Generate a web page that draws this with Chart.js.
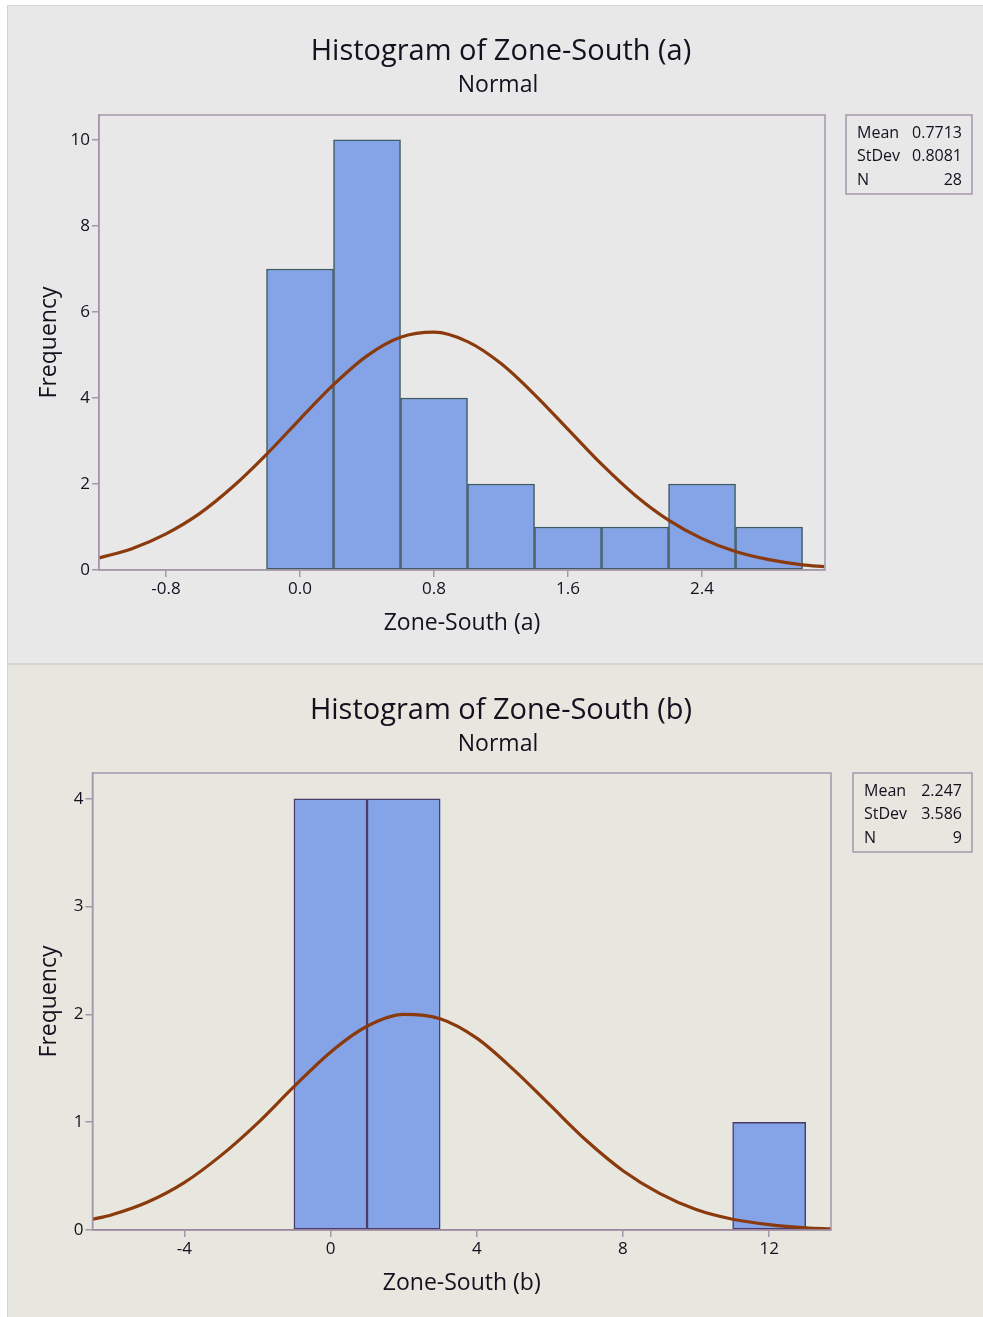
<!DOCTYPE html>
<html lang="en">
<head>
  <meta charset="UTF-8">
  <title>Histogram of Zone-South</title>
  <script src="https://cdn.jsdelivr.net/npm/chart.js"></script>
  <style>
    body {
      margin: 0;
      background: #ffffff;
      font-family: 'Open Sans', sans-serif;
    }
    .panel {
      position: absolute;
      left: 7px;
      width: 976px;
    }
    #panelA {
      top: 5px;
      height: 658px;
      background: #e8e8e8;
      box-shadow: inset 1px 1px 0 #d2d2d2;
    }
    #panelB {
      top: 663px;
      height: 654px;
      background: #e7e6df;
      box-shadow: inset 1px 2px 0 #d4d4d0;
    }
    .panel canvas {
      position: absolute;
      left: 0;
    }
  </style>
</head>
<body>

  <div class="panel" id="panelA"><canvas id="histA" width="976" height="657" style="top:0"></canvas></div>
  <div class="panel" id="panelB"><canvas id="histB" width="976" height="653" style="top:1px"></canvas></div>

  <script>
// Zone-South (a): bin midpoints (width 0.4) and frequencies
const binsA = [0.0, 0.4, 0.8, 1.2, 1.6, 2.0, 2.4, 2.8];
const countsA = [7, 10, 4, 2, 1, 1, 2, 1];
// fitted normal curve, sampled along the x axis
const curveXA = [-1.2, -1.0, -0.8, -0.6, -0.4, -0.2, 0.0, 0.2, 0.4, 0.6, 0.8, 1.0, 1.2, 1.4, 1.6, 1.8, 2.0, 2.2, 2.4, 2.6, 2.8, 3.0, 3.13];
const curveYA = [0.28, 0.50, 0.84, 1.31, 1.94, 2.69, 3.51, 4.31, 4.98, 5.41, 5.53, 5.31, 4.80, 4.08, 3.27, 2.46, 1.74, 1.16, 0.73, 0.43, 0.24, 0.12, 0.08];
const xTicksA = [-0.8, 0.0, 0.8, 1.6, 2.4];
const yTicksA = [0, 2, 4, 6, 8, 10];
const statLabelsA = ['Mean', 'StDev', 'N'];
const statValuesA = ['0.7713', '0.8081', '28'];

// Zone-South (b): bin midpoints (width 2) and frequencies
const binsB = [0, 2, 4, 6, 8, 10, 12];
const countsB = [4, 4, 0, 0, 0, 0, 1];
const curveXB = [-6.5, -6, -5, -4, -3, -2, -1, 0, 1, 2, 3, 4, 5, 6, 7, 8, 9, 10, 11, 12, 13, 13.7];
const curveYB = [0.10, 0.14, 0.26, 0.44, 0.69, 0.99, 1.33, 1.65, 1.89, 2.00, 1.96, 1.78, 1.49, 1.16, 0.83, 0.55, 0.34, 0.19, 0.10, 0.05, 0.02, 0.01];
const xTicksB = [-4, 0, 4, 8, 12];
const yTicksB = [0, 1, 2, 3, 4];
const statLabelsB = ['Mean', 'StDev', 'N'];
const statValuesB = ['2.247', '3.586', '9'];

const FONT = "'Open Sans', sans-serif";
const INK = '#14101e';
const FRAME = '#a597ab';

// headings, plot frame and the summary box
const decorPlugin = {
  id: 'decor',
  afterDraw(chart, args, opts) {
    const ctx = chart.ctx;
    const a = chart.chartArea;
    ctx.save();
    ctx.strokeStyle = FRAME;
    ctx.lineWidth = 1.5;
    ctx.strokeRect(a.left, a.top, a.right - a.left, a.bottom - a.top);

    ctx.fillStyle = INK;
    ctx.textAlign = 'center';
    ctx.textBaseline = 'middle';
    ctx.font = '29px ' + FONT;
    ctx.fillText(opts.title, opts.titleX, 47);
    ctx.font = '23px ' + FONT;
    ctx.fillText('Normal', opts.titleX - 3, 80);

    const b = opts.box;
    ctx.strokeStyle = FRAME;
    ctx.lineWidth = 1.5;
    ctx.strokeRect(b.x, b.y, b.w, b.h);
    ctx.font = '16px ' + FONT;
    opts.labels.forEach((lab, i) => {
      const y = b.y + 18 + i * 23.5;
      ctx.textAlign = 'left';
      ctx.fillText(lab, b.x + 11, y);
      ctx.textAlign = 'right';
      ctx.fillText(opts.values[i], b.x + b.w - 10, y);
    });
    ctx.restore();
  }
};

function makeHistogram(id, cfg) {
  return new Chart(document.getElementById(id), {
    type: 'bar',
    data: {
      datasets: [
        {
          type: 'line',
          data: cfg.curveX.map((x, i) => ({ x: x, y: cfg.curveY[i] })),
          borderColor: '#8b3a0e',
          borderWidth: 3.2,
          pointRadius: 0,
          cubicInterpolationMode: 'monotone',
          order: 0
        },
        {
          type: 'bar',
          data: cfg.bins.map((x, i) => ({ x: x, y: cfg.counts[i] })),
          backgroundColor: '#84a4e7',
          borderColor: cfg.edge,
          borderWidth: 1.5,
          borderSkipped: false,
          barPercentage: 1,
          categoryPercentage: 1,
          order: 1
        }
      ]
    },
    options: {
      responsive: false,
      animation: false,
      layout: { padding: { left: 20, right: cfg.padRight, top: cfg.padTop, bottom: cfg.padBottom } },
      scales: {
        x: {
          type: 'linear',
          min: cfg.xMin,
          max: cfg.xMax,
          offset: false,
          afterBuildTicks: s => { s.ticks = cfg.xTicks.map(v => ({ value: v })); },
          afterFit: s => { s.height = 70; },
          grid: { offset: false, drawOnChartArea: false, drawTicks: true, tickLength: 7, color: FRAME, lineWidth: 1.5 },
          border: { display: true, color: cfg.baseline, width: 1.5 },
          ticks: {
            color: INK,
            padding: 2,
            maxRotation: 0,
            font: { family: FONT, size: 17 },
            callback: v => cfg.xDigits ? v.toFixed(cfg.xDigits) : String(v)
          },
          title: { display: true, text: cfg.xTitle, color: INK, font: { family: FONT, size: 23 }, padding: { top: 0, bottom: 3 } }
        },
        y: {
          min: 0,
          max: cfg.yMax,
          afterBuildTicks: s => { s.ticks = cfg.yTicks.map(v => ({ value: v })); },
          afterFit: s => { s.width = cfg.yWidth; },
          grid: { drawOnChartArea: false, drawTicks: true, tickLength: 7, color: FRAME, lineWidth: 1.5 },
          border: { display: true, color: FRAME, width: 1.5 },
          ticks: { color: INK, padding: 2, font: { family: FONT, size: 17 } },
          title: { display: true, text: 'Frequency', color: INK, font: { family: FONT, size: 23 }, padding: { top: 9, bottom: 0 } }
        }
      },
      plugins: {
        legend: { display: false },
        tooltip: { enabled: false },
        decor: {
          title: cfg.title,
          titleX: 494,
          box: cfg.box,
          labels: cfg.statLabels,
          values: cfg.statValues
        }
      }
    },
    plugins: [decorPlugin]
  });
}

makeHistogram('histA', {
  bins: binsA, counts: countsA, curveX: curveXA, curveY: curveYA,
  xTicks: xTicksA, yTicks: yTicksA, xDigits: 1,
  xMin: -1.2, xMax: 3.134, yMax: 10.58,
  edge: '#3f5a60', baseline: FRAME,
  title: 'Histogram of Zone-South (a)', xTitle: 'Zone-South (a)',
  padTop: 110, padRight: 158, padBottom: 22, yWidth: 72,
  box: { x: 839, y: 110, w: 126, h: 79 },
  statLabels: statLabelsA, statValues: statValuesA
});

makeHistogram('histB', {
  bins: binsB, counts: countsB, curveX: curveXB, curveY: curveYB,
  xTicks: xTicksB, yTicks: yTicksB, xDigits: 0,
  xMin: -6.51, xMax: 13.69, yMax: 4.24,
  edge: '#4b3b6b', baseline: '#8a5a7c',
  title: 'Histogram of Zone-South (b)', xTitle: 'Zone-South (b)',
  padTop: 109, padRight: 152, padBottom: 17, yWidth: 65.5,
  box: { x: 846, y: 109, w: 119, h: 79 },
  statLabels: statLabelsB, statValues: statValuesB
});
  </script>
</body>
</html>
